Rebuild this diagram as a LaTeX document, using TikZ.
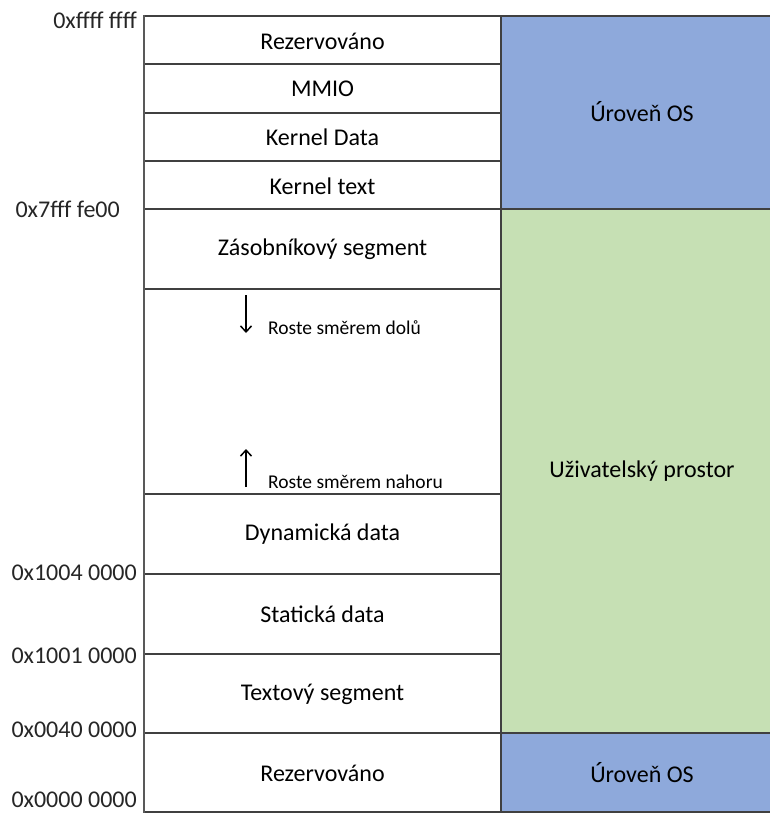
\documentclass[tikz,border=0pt]{standalone}
\usepackage{fontspec}
\setmainfont{Carlito}
\usetikzlibrary{arrows.meta}
\definecolor{osblue}{HTML}{8EA9DB}
\definecolor{usergreen}{HTML}{C6E0B4}
\definecolor{gridline}{HTML}{404040}
\begin{document}
\begin{tikzpicture}[x=1pt,y=-1pt,
  celltext/.style={font=\fontsize{24}{28}\selectfont, text=black, inner sep=0pt},
  addr/.style={font=\fontsize{24}{28}\selectfont, text=black!85, inner sep=0pt, anchor=east},
  growtext/.style={font=\fontsize{19.5}{23}\selectfont, text=black, inner sep=0pt, anchor=west},
  cellline/.style={draw=gridline, line width=1.4pt},
  growarrow/.style={line width=1.5pt, -{Straight Barb[length=6pt,width=11pt,line width=1.5pt]}}]
\useasboundingbox (0,0) rectangle (769,816);

% coloured privilege column
\fill[osblue] (501,16) rectangle (771,209);
\fill[usergreen] (501,209) rectangle (771,733);
\fill[osblue] (501,733) rectangle (771,812);

% boundaries that cross both columns
\foreach \y in {16,209,733,812}
  \draw[cellline] (144,\y) -- (771,\y);
% boundaries inside the segment column only
\foreach \y in {64,113,161,289,494,574,654}
  \draw[cellline] (144,\y) -- (501,\y);
\draw[cellline] (501,16) -- (501,812);
\draw[draw=black!65, line width=2pt] (144,15) -- (144,813);

% segment names
\node[celltext] (rez1) at (322.5,41) {Rezervováno};
\node[celltext] (mmio) at (322.5,89) {MMIO};
\node[celltext] (kdata) at (322.5,137) {Kernel Data};
\node[celltext] (ktext) at (322.5,186) {Kernel text};
\node[celltext] (stack) at (322.5,249) {Zásobníkový segment};
\node[celltext] (dyn) at (322.5,534) {Dynamická data};
\node[celltext] (stat) at (322.5,614) {Statická data};
\node[celltext] (text) at (322.5,694) {Textový segment};
\node[celltext] (rez2) at (322.5,773) {Rezervováno};

% privilege levels
\node[celltext] (os1) at (642,112) {Úroveň OS};
\node[celltext] (user) at (642,471) {Uživatelský prostor};
\node[celltext] (os2) at (642,773) {Úroveň OS};

% boundary addresses
\node[addr] (a1) at (137,20) {0xffff ffff};
\node[addr] (a2) at (120,209) {0x7fff fe00};
\node[addr] (a3) at (137,573) {0x1004 0000};
\node[addr] (a4) at (137,656) {0x1001 0000};
\node[addr] (a5) at (137,730) {0x0040 0000};
\node[addr] (a6) at (137,800) {0x0000 0000};

% growth directions of stack and heap
\coordinate (downA) at (246,295);
\coordinate (downB) at (246,333);
\coordinate (upA) at (246,487);
\coordinate (upB) at (246,449);
\draw[growarrow] (downA) -- (downB);
\draw[growarrow] (upA) -- (upB);
\node[growtext] (gdown) at (268,328) {Roste směrem dolů};
\node[growtext] (gup) at (268,482) {Roste směrem nahoru};
\end{tikzpicture}
\end{document}
